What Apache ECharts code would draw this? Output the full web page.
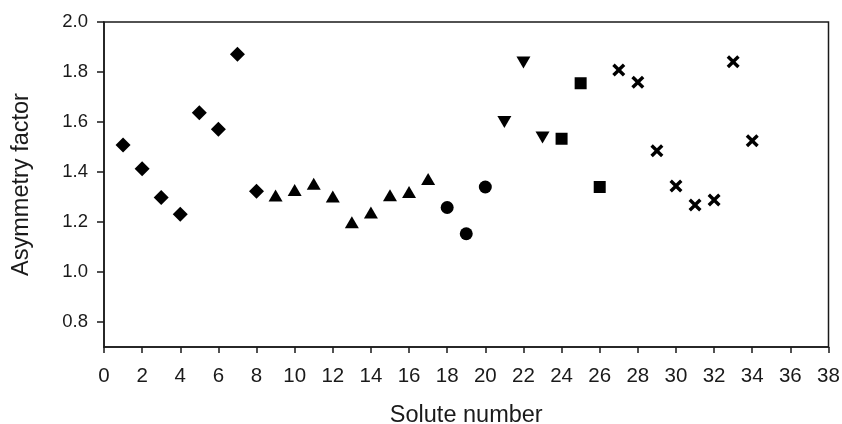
<!DOCTYPE html>
<html>
<head>
<meta charset="utf-8">
<script src="https://cdn.jsdelivr.net/npm/echarts@6/dist/echarts.min.js"></script>
<style>
html,body{margin:0;padding:0;background:#fff;}
#chart{width:842px;height:424px;}
</style>
</head>
<body>
<div id="chart"></div>
<script>
// Data
const diamondX = [1, 2, 3, 4, 5, 6, 7, 8];
const diamondY = [1.508, 1.413, 1.298, 1.231, 1.637, 1.571, 1.871, 1.323];
const triangleX = [9, 10, 11, 12, 13, 14, 15, 16, 17];
const triangleY = [1.306, 1.328, 1.353, 1.302, 1.199, 1.238, 1.307, 1.320, 1.372];
const circleX = [18, 19, 20];
const circleY = [1.258, 1.153, 1.340];
const invTriangleX = [21, 22, 23];
const invTriangleY = [1.600, 1.838, 1.538];
const squareX = [24, 25, 26];
const squareY = [1.533, 1.755, 1.340];
const crossX = [27, 28, 29, 30, 31, 32, 33, 34];
const crossY = [1.808, 1.759, 1.485, 1.344, 1.268, 1.288, 1.841, 1.525];

const yTickValues = [0.8, 1.0, 1.2, 1.4, 1.6, 1.8, 2.0];
const xAxisTitle = 'Solute number';
const yAxisTitle = 'Asymmetry factor';

const pair = (xs, ys) => xs.map((x, i) => [x, ys[i]]);
const crossPath = 'path://M0,2.2 L2.2,0 L6,3.8 L9.8,0 L12,2.2 L8.2,6 L12,9.8 L9.8,12 L6,8.2 L2.2,12 L0,9.8 L3.8,6 Z';

const chart = echarts.init(document.getElementById('chart'), null, {renderer: 'canvas'});
const axisColor = '#1a1a1a';
const baseSeries = {type: 'scatter', itemStyle: {color: '#000', opacity: 1}, silent: true, z: 3};

chart.setOption({
  animation: false,
  backgroundColor: '#fff',
  grid: {left: 104, right: 13.5, top: 22, bottom: 77, show: true, containLabel: false, outerBoundsMode: 'none',
    borderColor: axisColor, borderWidth: 1.5, backgroundColor: 'transparent'},
  xAxis: {
    type: 'value', min: 0, max: 38, interval: 2,
    name: xAxisTitle, nameLocation: 'middle', nameGap: 57,
    nameTextStyle: {fontFamily: 'Liberation Sans', fontSize: 23.5, color: axisColor},
    axisLine: {show: true, lineStyle: {color: axisColor, width: 1.5}},
    axisTick: {show: true, inside: false, length: 6, lineStyle: {color: axisColor, width: 1.5}},
    axisLabel: {margin: 19, fontFamily: 'Liberation Sans', fontSize: 20.5, color: axisColor},
    splitLine: {show: false}
  },
  yAxis: {
    type: 'value', min: 0.7, max: 2.0,
    name: yAxisTitle, nameLocation: 'middle', nameGap: 70,
    nameTextStyle: {fontFamily: 'Liberation Sans', fontSize: 23.5, color: axisColor},
    axisLine: {show: true, lineStyle: {color: axisColor, width: 1.5}},
    axisTick: {show: true, inside: false, length: 7, customValues: yTickValues, lineStyle: {color: axisColor, width: 1.5}},
    axisLabel: {margin: 16, fontFamily: 'Liberation Sans', fontSize: 18.5, color: axisColor, customValues: yTickValues,
      formatter: v => v.toFixed(1)},
    splitLine: {show: false}
  },
  series: [
    Object.assign({}, baseSeries, {name: 'diamond', symbol: 'diamond', symbolSize: [15, 15], data: pair(diamondX, diamondY)}),
    Object.assign({}, baseSeries, {name: 'triangle', symbol: 'triangle', symbolSize: [14, 12], data: pair(triangleX, triangleY)}),
    Object.assign({}, baseSeries, {name: 'circle', symbol: 'circle', symbolSize: 13, data: pair(circleX, circleY)}),
    Object.assign({}, baseSeries, {name: 'invtriangle', symbol: 'triangle', symbolRotate: 180, symbolSize: [14, 12], data: pair(invTriangleX, invTriangleY)}),
    Object.assign({}, baseSeries, {name: 'square', symbol: 'rect', symbolSize: 12, data: pair(squareX, squareY)}),
    Object.assign({}, baseSeries, {name: 'cross', symbol: crossPath, symbolSize: 13, data: pair(crossX, crossY)})
  ]
});
</script>
</body>
</html>
